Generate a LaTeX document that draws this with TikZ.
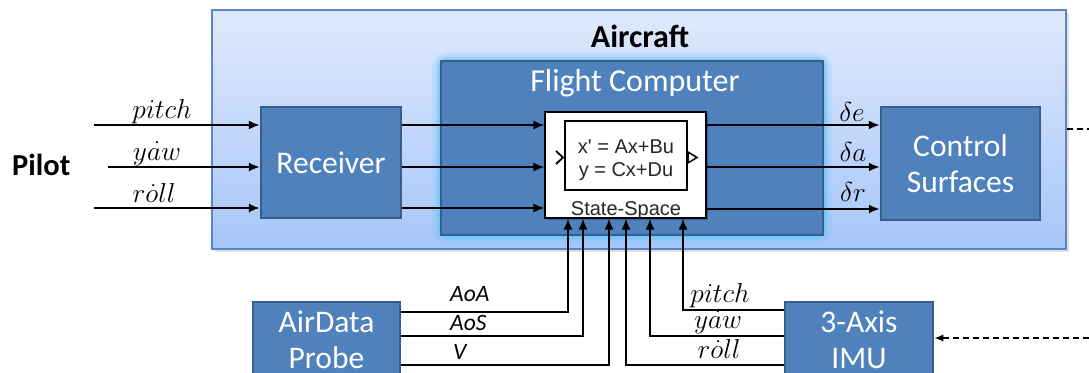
\documentclass[tikz,border=0pt]{standalone}
\usepackage{fontspec}
\setmainfont{Carlito}
\newfontfamily\arialfont{Liberation Sans}
\usetikzlibrary{arrows.meta,calc}
\definecolor{boxblue}{HTML}{4F81BD}
\definecolor{boxedge}{HTML}{385D8A}
\definecolor{airtop}{HTML}{E0E9FC}
\definecolor{airbot}{HTML}{A6C6FA}
\definecolor{airedge}{HTML}{5B86C4}
\definecolor{glowc}{HTML}{62C6FA}
\newcommand{\ml}[1]{\scalebox{1.1}{$#1$}}
\tikzset{
  blk/.style={draw=boxedge, line width=2.5pt, fill=boxblue, text=white,
    font=\fontsize{31.5}{36}\selectfont, align=center, inner sep=0pt},
  sig/.style={line width=1.8pt, -{Latex[length=11pt,width=9pt]}},
  dsig/.style={line width=1.3pt, dash pattern=on 6pt off 4pt},
  mlab/.style={font=\fontsize{24}{28}\selectfont, anchor=base, inner sep=0pt},
  slab/.style={font=\fontsize{23.5}{28}\selectfont\itshape, anchor=base west, inner sep=0pt},
}
\begin{document}
\begin{tikzpicture}[x=1pt,y=-1pt]
\useasboundingbox (0,0) rectangle (1089,372);
\begin{scope}
\clip (0,0) rectangle (1089,372);
% aircraft frame
\fill[black, opacity=0.12] (215,13) rectangle (1069,252);
\node[draw=airedge, line width=1.2pt, top color=airtop, bottom color=airbot,
      minimum width=854pt, minimum height=239pt, inner sep=0pt] (air) at (639,129.5) {};
\node[font=\bfseries\fontsize{32}{36}\selectfont, anchor=base, inner sep=0pt] (airt) at (640,47) {Aircraft};
% flight computer glow
\foreach \w/\o in {18/0.12, 12/0.2, 8/0.35, 4/0.6}
  \draw[glowc, line width=\w pt, opacity=\o, rounded corners=5pt] (441,61) rectangle (823,235);
\node[blk, minimum width=382pt, minimum height=174pt] (fc) at (632,148) {};
\node[font=\fontsize{32}{36}\selectfont, text=white, anchor=base, inner sep=0pt] (fct) at (635,91) {Flight Computer};
% state-space block
\fill[black, opacity=0.25] (547,114) rectangle (708,220);
\node[draw=black, fill=white, line width=1.2pt, minimum width=161pt, minimum height=106pt, inner sep=0pt] (ss) at (625.5,165) {};
\node[draw=black, line width=1.5pt, minimum width=122pt, minimum height=69pt, inner sep=0pt] (eq) at (626,155.5) {};
\node[font=\arialfont\fontsize{20}{23}\selectfont, align=center, inner sep=0pt, text=black!85] (eqt) at (626,160) {x' = Ax+Bu\\ y = Cx+Du};
\node[font=\arialfont\fontsize{20}{23}\selectfont, anchor=base, inner sep=0pt, text=black!85] (sst) at (626,215) {State-Space};
\draw[line width=1.8pt] (556,151) -- (563,157.5) -- (556,164);
\draw[line width=1.5pt, fill=white] (688,152) -- (697,157.5) -- (688,163) -- cycle;
% blocks
\node[blk, minimum width=140pt, minimum height=111pt] (rec) at (331,162.5) {Receiver};
\node[blk, minimum width=159pt, minimum height=113pt] (cs) at (960.5,163.5) {Control\\Surfaces};
\node[blk, minimum width=147pt, minimum height=76pt] (ad) at (326.5,340) {AirData\\Probe};
\node[blk, minimum width=148pt, minimum height=76pt] (imu) at (859,340) {3-Axis\\IMU};
\node[font=\bfseries\fontsize{30.5}{34}\selectfont, anchor=base west, inner sep=0pt] (pilot) at (12,175) {Pilot};
% pilot inputs
\coordinate (pp) at (94,125);
\coordinate (py) at (108,167);
\coordinate (pr) at (94,208);
\draw[sig] (pp) -- (rec.west |- pp);
\draw[sig] (py) -- (rec.west |- py);
\draw[sig] (pr) -- (rec.west |- pr);
\node[mlab] (lp) at (162,118) {\ml{pitch}};
\node[mlab] (ly) at (157,160) {\ml{\dot{yaw}}};
\node[mlab] (lr) at (154,202) {\ml{r\dot{o}ll}};
% receiver to state-space
\coordinate (ya) at (0,125);
\coordinate (yb) at (0,167);
\coordinate (yc) at (0,208);
\draw[sig] (rec.east |- ya) -- (ss.west |- ya);
\draw[sig] (rec.east |- yb) -- (ss.west |- yb);
\draw[sig] (rec.east |- yc) -- (ss.west |- yc);
% state-space to control surfaces
\coordinate (za) at (0,125);
\coordinate (zb) at (0,167);
\coordinate (zc) at (0,209);
\draw[sig] (ss.east |- za) -- (cs.west |- za);
\draw[sig] (ss.east |- zb) -- (cs.west |- zb);
\draw[sig] (ss.east |- zc) -- (cs.west |- zc);
\node[mlab] (lde) at (852,121) {\ml{\delta e}};
\node[mlab] (lda) at (853,161) {\ml{\delta a}};
\node[mlab] (ldr) at (853,201) {\ml{\delta r}};
% air data probe feeds
\coordinate (xa) at (568,312);
\coordinate (xb) at (583,336);
\coordinate (xc) at (609,365);
\draw[sig] (ad.east |- xa) -| (ss.south -| xa);
\draw[sig] (ad.east |- xb) -| (ss.south -| xb);
\draw[sig] (ad.east |- xc) -| (ss.south -| xc);
\node[slab] (laoa) at (450,301) {AoA};
\node[slab] (laos) at (450,330) {AoS};
\node[slab] (lv) at (453,359) {V};
% IMU feeds
\coordinate (xp) at (683,310);
\coordinate (xy) at (650,336);
\coordinate (xr) at (626,365);
\draw[sig] (imu.west |- xp) -| (ss.south -| xp);
\draw[sig] (imu.west |- xy) -| (ss.south -| xy);
\draw[sig] (imu.west |- xr) -| (ss.south -| xr);
\node[mlab] (lip) at (720,302) {\ml{pitch}};
\node[mlab] (liy) at (718,328) {\ml{\dot{yaw}}};
\node[mlab] (lir) at (719,358) {\ml{r\dot{o}ll}};
% dashed feedback (leaves the picture on the right)
\coordinate (d1) at (1089,129);
\coordinate (d2) at (1089,338);
\draw[dsig] (air.east |- d1) -- (d1);
\draw[dsig, -{Latex[length=9pt,width=7pt]}] (d2) -- (imu.east |- d2);
\end{scope}
\end{tikzpicture}
\end{document}
